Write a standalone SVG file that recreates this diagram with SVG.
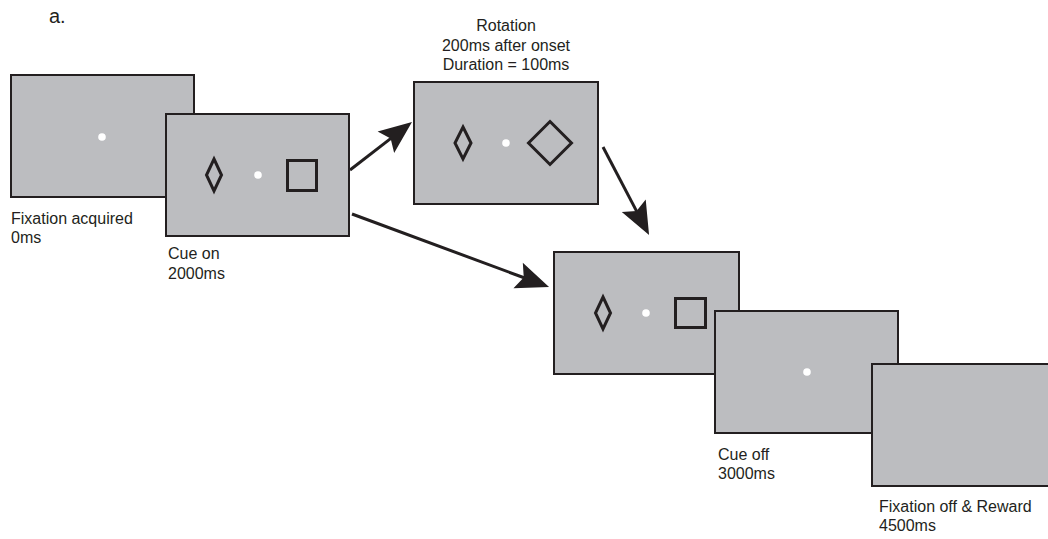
<svg xmlns="http://www.w3.org/2000/svg" width="1048" height="539" viewBox="0 0 1048 539">
  <defs>
    <style>
      .screen { fill: #bcbdc0; stroke: #231f20; stroke-width: 2; }
      .dot { fill: #ffffff; }
      .shape { fill: none; stroke: #231f20; stroke-width: 3; stroke-linejoin: miter; }
      .lbl { font-family: "Liberation Sans", Arial, sans-serif; font-size: 16px; fill: #231f20; }
      .conn { stroke: #231f20; stroke-width: 3; fill: none; }
    </style>
    <marker id="ah" markerUnits="userSpaceOnUse" orient="auto" markerWidth="40" markerHeight="30" refX="10" refY="14" overflow="visible">
      <path d="M33,14 L0,0.5 L6,14 L0,27.5 Z" fill="#231f20"/>
    </marker>
  </defs>
  <rect width="1048" height="539" fill="#ffffff"/>
  <text class="lbl" x="49" y="23" style="font-size:20px">a.</text>

  <g id="screen1">
    <rect class="screen" x="11" y="75" width="183" height="122"/>
    <circle class="dot" cx="102" cy="137" r="3.8"/>
    <text class="lbl" x="11" y="224">Fixation acquired</text>
    <text class="lbl" x="11" y="243">0ms</text>
  </g>

  <g id="screen2">
    <rect class="screen" x="166" y="114" width="183" height="122"/>
    <path class="shape" d="M214,159 L221.5,175 L214,191 L206.5,175 Z"/>
    <circle class="dot" cx="258" cy="175" r="3.8"/>
    <rect class="shape" x="287.5" y="160.5" width="29" height="30"/>
    <text class="lbl" x="168" y="259">Cue on</text>
    <text class="lbl" x="168" y="279">2000ms</text>
  </g>

  <g id="screen3">
    <text class="lbl" x="506" y="31" text-anchor="middle">Rotation</text>
    <text class="lbl" x="506" y="51" text-anchor="middle">200ms after onset</text>
    <text class="lbl" x="506" y="70" text-anchor="middle">Duration = 100ms</text>
    <rect class="screen" x="414" y="82" width="184" height="122"/>
    <path class="shape" d="M463,127 L471,143 L463,159 L455,143 Z"/>
    <circle class="dot" cx="506" cy="143" r="3.8"/>
    <path class="shape" d="M550,121.5 L571.5,143 L550,164.5 L528.5,143 Z"/>
  </g>

  <g id="screen4">
    <rect class="screen" x="554" y="252" width="185" height="122"/>
    <path class="shape" d="M603,297 L610.5,313 L603,329 L595.5,313 Z"/>
    <circle class="dot" cx="646" cy="313" r="3.8"/>
    <rect class="shape" x="675.5" y="298.5" width="30" height="29"/>
  </g>

  <g id="screen5">
    <rect class="screen" x="715" y="311" width="183" height="122"/>
    <circle class="dot" cx="807" cy="372" r="3.8"/>
    <text class="lbl" x="718" y="460">Cue off</text>
    <text class="lbl" x="718" y="479">3000ms</text>
  </g>

  <g id="screen6">
    <rect class="screen" x="872" y="364" width="190" height="122"/>
    <text class="lbl" x="879" y="512">Fixation off &amp; Reward</text>
    <text class="lbl" x="879" y="531">4500ms</text>
  </g>

  <g id="connectors">
    <line class="conn" x1="350" y1="170" x2="393.8" y2="136.1" marker-end="url(#ah)"/>
    <line class="conn" x1="352" y1="214" x2="527.5" y2="279.0" marker-end="url(#ah)"/>
    <line class="conn" x1="603" y1="147" x2="638.4" y2="214.6" marker-end="url(#ah)"/>
  </g>
</svg>
